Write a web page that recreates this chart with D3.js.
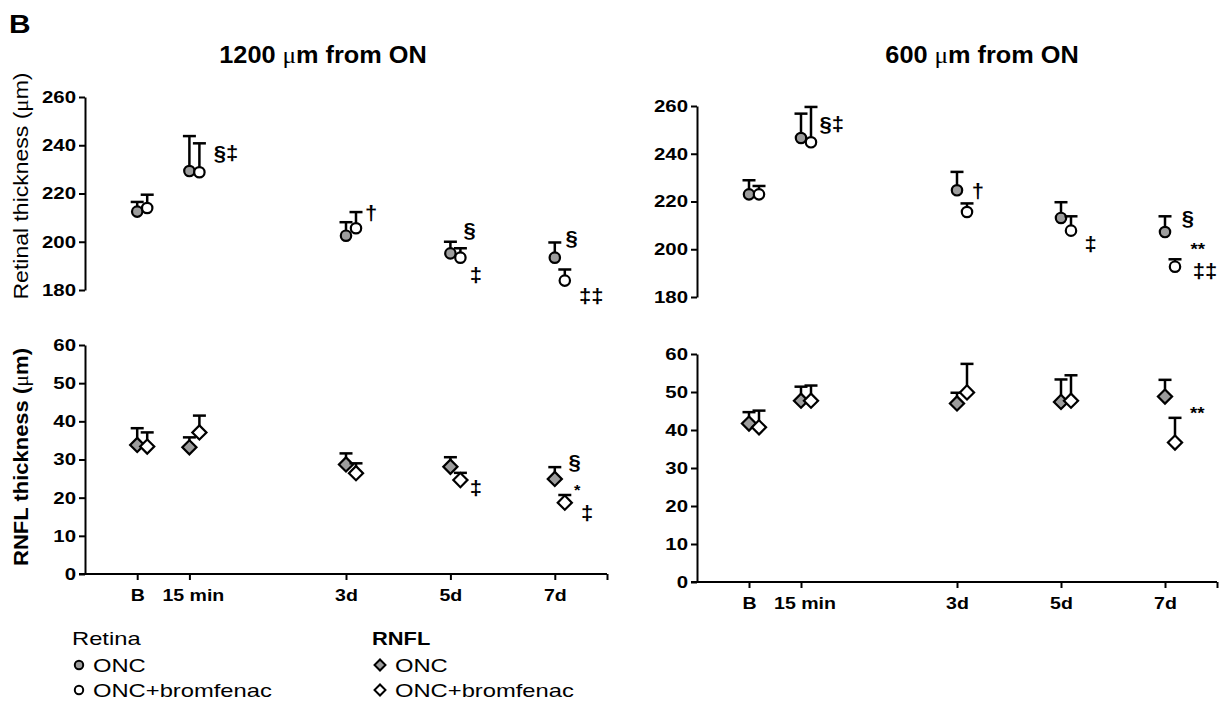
<!DOCTYPE html>
<html>
<head>
<meta charset="utf-8">
<script src="https://cdn.jsdelivr.net/npm/d3@7/dist/d3.min.js"></script>
<style>
body { margin: 0; background: #fff; }
text { font-family: "Liberation Sans", Arial, sans-serif; fill: #000; }
</style>
</head>
<body>
<div id="chart"></div>
<script>
const WIDTH = 1220, HEIGHT = 702;

// time points (B plotted one day before the 15 min point)
const timeLabels = ["B", "15 min", "3d", "5d", "7d"];
const timeDays = [-1, 0, 3, 5, 7];

// retinal thickness, 1200 um from ON
const ret1200Onc = [212.5, 229.3, 202.5, 195.2, 193.4];
const ret1200OncSd = [4, 14.5, 5.6, 4.8, 6.3];
const ret1200Brom = [214, 228.8, 205.6, 193.4, 183.9];
const ret1200BromSd = [5.5, 12, 6.7, 3.9, 4.6];

// retinal thickness, 600 um from ON
const ret600Onc = [223, 246.6, 224.7, 213.1, 207.2];
const ret600OncSd = [5.9, 10.2, 7.7, 6.6, 6.6];
const ret600Brom = [223, 244.8, 215.6, 207.8, 192.7];
const ret600BromSd = [3.5, 14.8, 3.6, 6, 3.1];

// RNFL thickness, 1200 um from ON
const rnfl1200Onc = [33.8, 33.2, 28.7, 28.1, 24.9];
const rnfl1200OncSd = [4.4, 2.6, 2.9, 2.5, 3.1];
const rnfl1200Brom = [33.4, 37.1, 26.4, 24.6, 18.7];
const rnfl1200BromSd = [3.7, 4.4, 2.6, 1.9, 2.0];

// RNFL thickness, 600 um from ON
const rnfl600Onc = [41.7, 47.7, 47.0, 47.4, 48.8];
const rnfl600OncSd = [3.0, 3.7, 2.8, 5.9, 4.4];
const rnfl600Brom = [40.7, 47.7, 49.9, 47.7, 36.7];
const rnfl600BromSd = [4.4, 4.0, 7.5, 6.7, 6.5];

const retTicks = [180, 200, 220, 240, 260];
const rnflTicks = [0, 10, 20, 30, 40, 50, 60];

// significance marks: [day, value, mark]
const notesRet1200 = [[0.7, 237, "§‡"], [3.48, 212, "†"], [5.37, 205, "§"], [5.49, 186.2, "‡"], [7.32, 201.5, "§"], [7.7, 177.7, "‡‡"]];
const notesRet600 = [[0.59, 252.7, "§‡"], [3.4, 224.4, "†"], [5.57, 202.2, "‡"], [7.44, 213, "§"], [7.63, 201.5, "**"], [7.77, 190.8, "‡‡"]];
const notesRnfl1200 = [[5.49, 22.5, "‡"], [7.38, 29.4, "§"], [7.43, 22.8, "*"], [7.62, 16, "‡"]];
const notesRnfl600 = [[7.62, 45.3, "**"]];

const GREY = "#9d9d9d";
const DODGE = 10;

const svg = d3.select("#chart").append("svg").attr("width", WIDTH).attr("height", HEIGHT);

// text helper: horizontally widened glyphs like the source figure
function label(g, x, y, str, opt) {
    opt = opt || {};
    const t = g.append("text")
        .attr("transform", "translate(" + x + "," + y + ")" + (opt.rotate ? " rotate(" + opt.rotate + ")" : "") + " scale(" + (opt.sx || 1.15) + ",1)")
        .attr("font-size", opt.size || 16)
        .attr("font-weight", opt.bold ? "bold" : "normal")
        .attr("text-anchor", opt.anchor || "start")
    if (opt.dy) t.attr("dy", opt.dy)
    return t.text(str)
}

function widenAxisText(axisG, sx) {
    axisG.selectAll("text").each(function() {
        const t = d3.select(this)
        const x = +t.attr("x") || 0
        const y = +t.attr("y") || 0
        t.attr("x", 0).attr("y", 0).attr("transform", "translate(" + x + "," + y + ") scale(" + sx + ",1)")
    })
}

function panel(cfg) {
    const x = d3.scaleLinear().domain([-2, 8]).range(cfg.xr)
    const y = d3.scaleLinear().domain(cfg.yd).range(cfg.yr)
    const g = svg.append("g")

    // y axis
    const ya = g.append("g").attr("transform", "translate(" + cfg.xr[0] + ",0)")
        .call(d3.axisLeft(y).tickValues(cfg.ticks).tickSize(6).tickSizeOuter(0).tickPadding(3))
    ya.select(".domain").attr("stroke-width", 2)
    ya.selectAll(".tick line").attr("stroke-width", 2)
    ya.selectAll("text").attr("font-size", 17).attr("font-weight", "bold").attr("font-family", "Liberation Sans, Arial, sans-serif")
    widenAxisText(ya, 1.2)

    if (cfg.xAxis) {
        const xa = g.append("g").attr("transform", "translate(0," + cfg.yr[0] + ")")
            .call(d3.axisBottom(x).tickValues(timeDays.concat([8])).tickFormat((d, i) => timeLabels[i] || "")
                .tickSize(6).tickSizeOuter(0).tickPadding(9))
        xa.select(".domain").attr("stroke-width", 2).attr("d", "M" + (cfg.xr[0] - 6) + ",0H" + cfg.xr[1])
        xa.selectAll(".tick line").attr("stroke-width", 2)
        xa.selectAll("text").attr("font-size", 17).attr("font-weight", "bold").attr("font-family", "Liberation Sans, Arial, sans-serif")
        xa.selectAll(".tick").filter((d, i) => i == 1).select("text").attr("dx", 3)
        widenAxisText(xa, 1.15)
    }

    const series = [
        { v: cfg.onc, sd: cfg.oncSd, fill: GREY, dx: 0 },
        { v: cfg.brom, sd: cfg.bromSd, fill: "#fff", dx: DODGE }
    ]
    series.forEach(s => {
        const pts = g.append("g")
        timeDays.forEach((day, i) => {
            const cx = x(day) + s.dx, cy = y(s.v[i]), top = y(s.v[i] + s.sd[i])
            pts.append("line").attr("x1", cx).attr("x2", cx).attr("y1", cy).attr("y2", top)
                .attr("stroke", "#000").attr("stroke-width", 2.5)
            pts.append("line").attr("x1", cx - 6.5).attr("x2", cx + 6.5).attr("y1", top).attr("y2", top)
                .attr("stroke", "#000").attr("stroke-width", 2.5)
            if (cfg.shape == "circle") {
                pts.append("circle").attr("cx", cx).attr("cy", cy).attr("r", 5.2)
                    .attr("fill", s.fill).attr("stroke", "#000").attr("stroke-width", 2.2)
            } else {
                pts.append("path").attr("d", d3.symbol(d3.symbolSquare, 100)())
                    .attr("transform", "translate(" + cx + "," + cy + ") rotate(45)")
                    .attr("fill", s.fill).attr("stroke", "#000").attr("stroke-width", 2.2)
            }
        })
    })

    cfg.notes.forEach(n => {
        const star = n[2].indexOf("*") >= 0
        label(g, x(n[0]), y(n[1]), n[2], { size: star ? (n[2] == "*" ? 15 : 17) : 20, bold: true, anchor: "middle", dy: star ? "0.55em" : "0.36em", sx: 1.1 })
    })
}

// top row: retina
panel({ xr: [85, 607], yd: [180, 260], yr: [290, 97], ticks: retTicks, shape: "circle",
    onc: ret1200Onc, oncSd: ret1200OncSd, brom: ret1200Brom, bromSd: ret1200BromSd, notes: notesRet1200 })
panel({ xr: [697, 1217], yd: [180, 260], yr: [297, 106], ticks: retTicks, shape: "circle",
    onc: ret600Onc, oncSd: ret600OncSd, brom: ret600Brom, bromSd: ret600BromSd, notes: notesRet600 })
// bottom row: RNFL
panel({ xr: [85, 607], yd: [0, 60], yr: [574, 345], ticks: rnflTicks, shape: "diamond", xAxis: true,
    onc: rnfl1200Onc, oncSd: rnfl1200OncSd, brom: rnfl1200Brom, bromSd: rnfl1200BromSd, notes: notesRnfl1200 })
panel({ xr: [697, 1217], yd: [0, 60], yr: [582, 354], ticks: rnflTicks, shape: "diamond", xAxis: true,
    onc: rnfl600Onc, oncSd: rnfl600OncSd, brom: rnfl600Brom, bromSd: rnfl600BromSd, notes: notesRnfl600 })

// panel letter and titles
label(svg, 9, 33, "B", { size: 26, bold: true, sx: 1.15 })
function title(x, num) {
    const t = label(svg, x, 63, "", { size: 23, bold: true, anchor: "middle", sx: 1.1 })
    t.append("tspan").text(num + " ")
    t.append("tspan").attr("font-family", "Liberation Serif, serif").attr("font-weight", "normal").text("μ")
    t.append("tspan").text("m from ON")
}
title(323, "1200")
title(982, "600")

// y axis titles
function ytitle(cy, name, bold) {
    const t = label(svg, 28, cy, "", { size: 20, bold: bold, anchor: "middle", rotate: -90, sx: bold ? 1.1 : 1.15 })
    t.append("tspan").text(name + " (")
    t.append("tspan").attr("font-family", "Liberation Serif, serif").attr("font-weight", "normal").text("μ")
    t.append("tspan").text("m)")
}
ytitle(186, "Retinal thickness", false)
ytitle(457, "RNFL thickness", true)

// legend
const legend = svg.append("g")
const legendRows = ["ONC", "ONC+bromfenac"]
const legendFills = [GREY, "#fff"]
label(legend, 72, 645, "Retina", { size: 19, sx: 1.25 })
label(legend, 372, 645, "RNFL", { size: 19, bold: true, sx: 1.15 })
legendRows.forEach((name, i) => {
    const cy = 665 + i * 25
    legend.append("circle").attr("cx", 79).attr("cy", cy).attr("r", 4.2)
        .attr("fill", legendFills[i]).attr("stroke", "#000").attr("stroke-width", 2)
    label(legend, 93, cy + 7, name, { size: 19, sx: 1.25 })
    legend.append("path").attr("d", d3.symbol(d3.symbolSquare, 60)())
        .attr("transform", "translate(380," + cy + ") rotate(45)")
        .attr("fill", legendFills[i]).attr("stroke", "#000").attr("stroke-width", 2)
    label(legend, 395, cy + 7, name, { size: 19, sx: 1.25 })
})
</script>
</body>
</html>
